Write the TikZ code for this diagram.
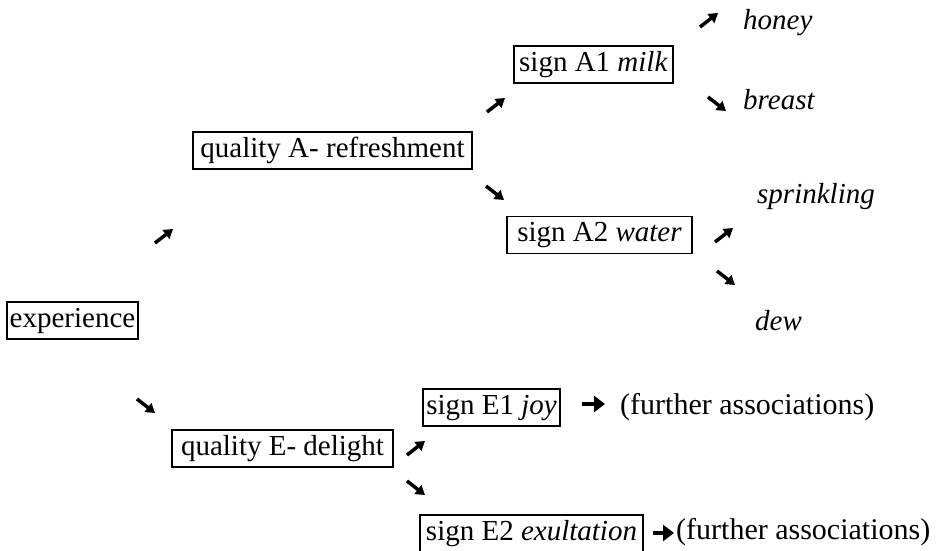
\documentclass[tikz,border=0pt]{standalone}
\usepackage{fontspec}
\setmainfont{Liberation Serif}
\usetikzlibrary{arrows.meta}
\tikzset{
	tag/.style={draw, line width=1.5pt, inner xsep=0pt, inner ysep=5pt, text height=20pt, text depth=7pt, font=\fontsize{29}{34}\selectfont},
	word/.style={inner sep=0pt, anchor=base west, font=\fontsize{29}{34}\selectfont\itshape},
	pointer/.style={line width=3.5pt, -{Triangle[length=9pt,width=11pt]}},
	further/.style={line width=4.5pt, -{Triangle[length=11pt,width=16pt]}}
}
\begin{document}
\begin{tikzpicture}[x=1pt,y=-1pt]
			\useasboundingbox (0,0) rectangle (940,551);
			
			%boxes
			\node[tag, minimum width=131pt] (exp) at (72.5,320.5){experience};
			\node[tag, minimum width=279pt] (qa) at (332.5,150.5){quality A- refreshment};
			\node[tag, minimum width=221pt] (qe) at (282.5,448.5){quality E- delight};
			\node[tag, minimum width=159pt] (a1) at (593.5,64.5){sign A1 \textit{milk}};
			\node[tag, minimum width=185pt] (a2) at (599.5,235){sign A2 \textit{water}};
			\node[tag, minimum width=137pt] (e1) at (491.5,407.5){sign E1 \textit{joy}};
			\node[tag, minimum width=223pt] (e2) at (531.5,533.5){sign E2 \textit{exultation}};
			
			%associations
			\node[word] (honey) at (743,30){honey};
			\node[word] (breast) at (743,110){breast};
			\node[word] (sprinkling) at (757,203){sprinkling};
			\node[word] (dew) at (755,330){dew};
			\node[word, font=\fontsize{30}{34}\selectfont] (fa1) at (620,414){(further associations)};
			\node[word, font=\fontsize{30}{34}\selectfont] (fa2) at (676,539){(further associations)};
			
			%up arrows
			\foreach \x/\y in {155/243, 487/112, 700/27, 715/242, 407/455}{
				\draw[pointer] (\x,\y) -- ++(18,-14);
			}
			%down arrows
			\foreach \x/\y in {137/399, 486/186, 708/97, 717/271, 407/481}{
				\draw[pointer] (\x,\y) -- ++(18,14);
			}
			
			\draw[further] (582,404) -- ([xshift=-15pt]fa1.west |- 0,404);
			\draw[further] (653,533) -- ([xshift=-2pt]fa2.west |- 0,533);
		\end{tikzpicture}
\end{document}
